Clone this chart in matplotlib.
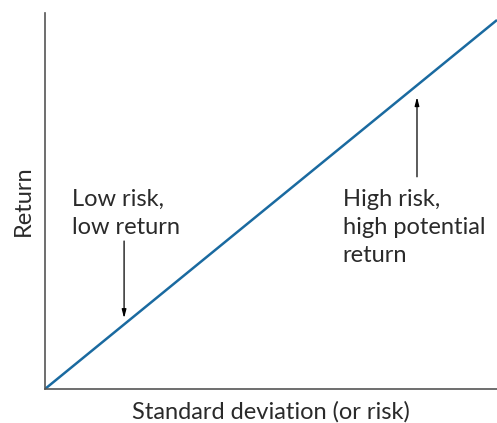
import matplotlib.pyplot as plt

# risk/return line
risk = [0, 10]
ret = [0, 10]

low_label = "Low risk,\nlow return"
high_label = "High risk,\nhigh potential\nreturn"

plt.rcParams['font.family'] = ['Lato', 'DejaVu Sans']

fig = plt.figure(figsize=(4.97, 4.23), dpi=100)
ax = fig.add_axes([0.0905, 0.0804, 0.9095, 0.8889])

ax.plot(risk, ret, color='#1a6aa0', lw=1.8, solid_capstyle='butt')
ax.set_xlim(0, 10)
ax.set_ylim(0, 10.19)

for s in ['top', 'right']:
    ax.spines[s].set_visible(False)
for s in ['left', 'bottom']:
    ax.spines[s].set_color('#555555')
    ax.spines[s].set_linewidth(1.2)
ax.set_xticks([])
ax.set_yticks([])

fs = 17
tc = '#2a2a2a'
ax.set_xlabel('Standard deviation (or risk)', fontsize=fs, labelpad=9, color=tc)
ax.set_ylabel('Return', fontsize=fs, labelpad=8, color=tc)

ax.text(0.6, 5.42, low_label, fontsize=fs, va='top', ha='left',
        linespacing=1.42, color=tc)
ax.text(6.59, 5.42, high_label, fontsize=fs, va='top', ha='left',
        linespacing=1.42, color=tc)

arrow = dict(arrowstyle='-|>,head_length=0.5,head_width=0.13', color='black', lw=0.9,
             shrinkA=0, shrinkB=0)
ax.annotate('', xy=(1.75, 1.92), xytext=(1.75, 4.01), arrowprops=arrow)
ax.annotate('', xy=(8.23, 7.91), xytext=(8.23, 5.75), arrowprops=arrow)

fig.savefig('out.png', dpi=100)
